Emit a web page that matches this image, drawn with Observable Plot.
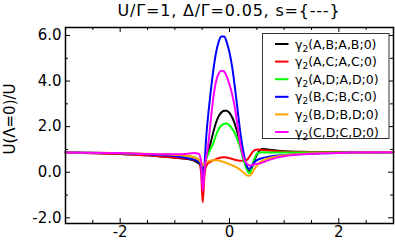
<!DOCTYPE html>
<html>
<head>
<meta charset="utf-8">
<script src="https://cdn.jsdelivr.net/npm/d3@7"></script>
<script src="https://cdn.jsdelivr.net/npm/@observablehq/plot@0.6"></script>
<style>
html, body { margin: 0; padding: 0; background: #fff; }
</style>
</head>
<body>
<div id="chart"></div>
<script>
const xs = [-3, -2, -1.5, -1.2, -1, -0.8, -0.65, -0.56, -0.52, -0.49, -0.46, -0.43, -0.39, -0.35, -0.3, -0.25, -0.2, -0.15, -0.1, -0.05, 0, 0.05, 0.1, 0.15, 0.2, 0.25, 0.3, 0.34, 0.37, 0.41, 0.46, 0.52, 0.6, 0.7, 0.85, 1.0, 1.3, 1.7, 2.2, 3];

const seriesNames = ["A,B;A,B;0", "A,C;A,C;0", "A,D;A,D;0", "B,C;B,C;0", "B,D;B,D;0", "C,D;C,D;0"];
const seriesColors = ["#000000", "#ff0000", "#00ff00", "#0000ff", "#ffa500", "#ff00ff"];

const yAB = [0.87, 0.8, 0.74, 0.68, 0.64, 0.59, 0.51, 0.38, 0.28, 0.15, 0.3, 0.6, 0.95, 1.25, 1.72, 2.15, 2.45, 2.62, 2.7, 2.7, 2.6, 2.4, 2.1, 1.7, 1.2, 0.7, 0.3, 0.08, 0.04, 0.2, 0.55, 0.85, 1.02, 1.0, 0.95, 0.92, 0.9, 0.89, 0.88, 0.88];
const yAC = [0.87, 0.8, 0.74, 0.68, 0.64, 0.6, 0.55, 0.45, 0.0, -1.32, -0.2, 0.25, 0.4, 0.45, 0.52, 0.57, 0.62, 0.65, 0.66, 0.65, 0.62, 0.58, 0.55, 0.52, 0.5, 0.5, 0.52, 0.6, 0.7, 0.85, 0.97, 1.0, 0.98, 0.95, 0.92, 0.9, 0.89, 0.88, 0.88, 0.88];
const yAD = [0.87, 0.83, 0.8, 0.77, 0.74, 0.71, 0.66, 0.55, 0.42, 0.25, 0.35, 0.55, 0.8, 1.0, 1.25, 1.6, 1.88, 2.05, 2.13, 2.14, 2.05, 1.9, 1.7, 1.4, 1.05, 0.6, 0.22, 0.0, -0.04, 0.25, 0.62, 0.85, 0.88, 0.86, 0.86, 0.86, 0.87, 0.87, 0.87, 0.88];
const yBC = [0.88, 0.83, 0.79, 0.74, 0.7, 0.63, 0.55, 0.45, 0.3, -0.36, 0.2, 1.4, 2.5, 3.4, 4.4, 5.2, 5.7, 5.95, 5.95, 5.7, 5.25, 4.6, 3.7, 2.7, 1.7, 0.95, 0.4, 0.17, 0.15, 0.28, 0.45, 0.55, 0.62, 0.67, 0.72, 0.75, 0.8, 0.83, 0.86, 0.88];
const yBD = [0.87, 0.84, 0.81, 0.79, 0.76, 0.72, 0.66, 0.55, 0.42, 0.33, 0.36, 0.42, 0.47, 0.5, 0.52, 0.52, 0.51, 0.48, 0.44, 0.4, 0.35, 0.3, 0.25, 0.18, 0.1, 0.0, -0.1, -0.15, -0.15, -0.05, 0.15, 0.35, 0.5, 0.6, 0.68, 0.74, 0.8, 0.84, 0.86, 0.88];
const yCD = [0.87, 0.84, 0.8, 0.79, 0.79, 0.8, 0.84, 0.8, 0.5, -0.8, 0.0, 0.6, 1.2, 2.1, 3.2, 3.95, 4.32, 4.45, 4.42, 4.2, 3.85, 3.4, 2.8, 2.0, 1.2, 0.7, 0.42, 0.33, 0.3, 0.32, 0.35, 0.37, 0.42, 0.52, 0.63, 0.7, 0.78, 0.83, 0.86, 0.88];

const seriesValues = [yAB, yAC, yAD, yBC, yBD, yCD];

const xTicks = [-2, 0, 2];
const xMinor = [-2.5, -1.5, -1, -0.5, 0.5, 1, 1.5, 2.5];
const yTicks = [-2, 0, 2, 4, 6];
const yMinor = [-1, 1, 3, 5];

const titleText = "U/Γ=1, Δ/Γ=0.05, s={---}";
const yLabelText = "U(Λ=0)/U";

const rows = [];
seriesNames.forEach((name, i) => {
  xs.forEach((x, j) => rows.push({series: name, x, y: seriesValues[i][j]}));
});

const W = 395, H = 240;
const xDom = [-3, 3], yDom = [-2.25, 6.35];
const mL = 65, mR = 2, mT = 27, mB = 17;
const pxX = (xDom[1] - xDom[0]) / (W - mL - mR);
const pxY = (yDom[1] - yDom[0]) / (H - mT - mB);
const tickRowsX = [...xTicks.map(v => ({v, len: 5})), ...xMinor.map(v => ({v, len: 3}))];
const tickRowsY = [...yTicks.map(v => ({v, len: 5})), ...yMinor.map(v => ({v, len: 3}))];

const plot = Plot.plot({
  width: W,
  height: H,
  marginLeft: mL,
  marginRight: mR,
  marginTop: mT,
  marginBottom: mB,
  style: {fontFamily: "'DejaVu Sans', sans-serif", fontSize: "15px", background: "#fff", color: "#000"},
  x: {domain: xDom, label: null},
  y: {domain: yDom, label: null},
  color: {domain: seriesNames, range: seriesColors},
  marks: [
    Plot.line(rows, {x: "x", y: "y", z: "series", stroke: "series", strokeWidth: 2, curve: "monotone-x"}),
    Plot.ruleX(tickRowsX, {x: "v", y1: yDom[0], y2: d => yDom[0] + d.len * pxY, stroke: "#000", strokeWidth: 1}),
    Plot.ruleX(tickRowsX, {x: "v", y1: yDom[1], y2: d => yDom[1] - d.len * pxY, stroke: "#000", strokeWidth: 1}),
    Plot.ruleY(tickRowsY, {y: "v", x1: xDom[0], x2: d => xDom[0] + d.len * pxX, stroke: "#000", strokeWidth: 1}),
    Plot.ruleY(tickRowsY, {y: "v", x1: xDom[1], x2: d => xDom[1] - d.len * pxX, stroke: "#000", strokeWidth: 1}),
    Plot.axisX(xTicks, {anchor: "bottom", tickSize: 0, tickPadding: 3, fontSize: 15, tickFormat: d => String(d), label: null}),
    Plot.axisY(yTicks, {anchor: "left", tickSize: 0, tickPadding: 4, fontSize: 15, tickFormat: d => d.toFixed(1), label: null}),
    Plot.frame({stroke: "#000", strokeWidth: 1.5})
  ]
});

const svg = d3.select(plot);
svg.append("text")
  .attr("x", 229).attr("y", 16)
  .attr("text-anchor", "middle")
  .attr("font-size", 16).attr("letter-spacing", 0.8)
  .attr("fill", "#000")
  .text(titleText);

svg.append("text")
  .attr("transform", "translate(15,119) rotate(-90)")
  .attr("text-anchor", "middle")
  .attr("font-size", 15)
  .attr("fill", "#000")
  .text(yLabelText);

// Legend
const lx = 262.5, ly = 33.5, lw = 126.5, lh = 105;
const lg = svg.append("g").attr("text-anchor", "start");
lg.append("rect").attr("x", lx).attr("y", ly).attr("width", lw).attr("height", lh)
  .attr("fill", "#fff").attr("stroke", "#333").attr("stroke-width", 1);
seriesNames.forEach((name, i) => {
  const yy = 44 + i * 17.6;
  lg.append("line").attr("x1", 275).attr("x2", 288.5).attr("y1", yy).attr("y2", yy)
    .attr("stroke", seriesColors[i]).attr("stroke-width", 2);
  const t = lg.append("text").attr("x", 295).attr("y", yy + 4.5).attr("font-size", 12.5)
    .attr("fill", "#000").attr("text-anchor", "start");
  t.append("tspan").text("γ");
  t.append("tspan").attr("font-size", 9).attr("dy", 3).text("2");
  t.append("tspan").attr("dy", -3).text("(" + name + ")");
});

document.getElementById("chart").appendChild(plot);
</script>
</body>
</html>
